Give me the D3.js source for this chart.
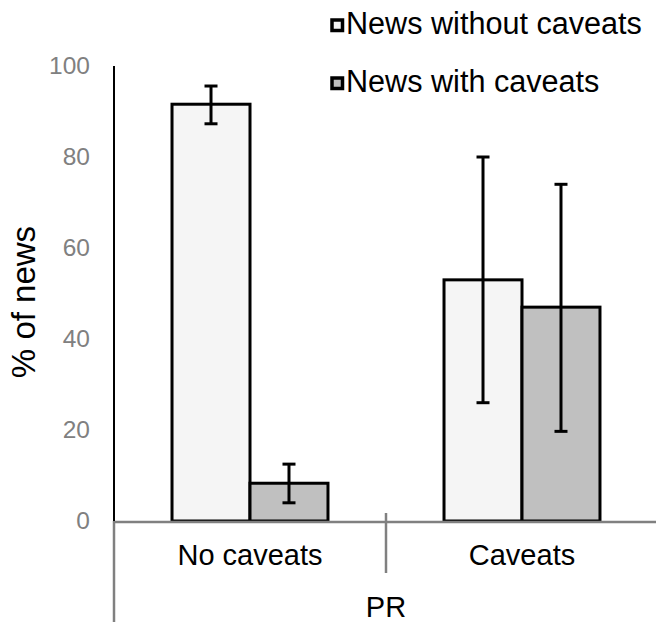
<!DOCTYPE html>
<html>
<head>
<meta charset="utf-8">
<script src="https://cdn.jsdelivr.net/npm/d3@7"></script>
<style>
  html, body { margin: 0; padding: 0; background: #fff; }
  svg { display: block; font-family: "Liberation Sans", Arial, sans-serif; }
</style>
</head>
<body>
<svg id="chart" width="656" height="622"></svg>
<script>
const categories = ["No caveats", "Caveats"];
const seriesNames = ["News without caveats", "News with caveats"];
const seriesColors = ["#f5f5f5", "#c0c0c0"];
const withoutCaveats = [91.6, 53.0];
const withCaveats = [8.3, 47.0];
const withoutCaveatsLow = [87.3, 26.0];
const withoutCaveatsHigh = [95.6, 80.0];
const withCaveatsLow = [4.0, 19.7];
const withCaveatsHigh = [12.5, 74.0];
const yTicks = [0, 20, 40, 60, 80, 100];
const groupLabel = "PR";
const yTitle = "% of news";

const svg = d3.select("#chart");

const x0 = d3.scaleBand().domain(categories).range([114, 658]).paddingInner(0).paddingOuter(0);
const x1 = d3.scaleBand().domain(seriesNames).range([0, x0.bandwidth()]).paddingInner(0).paddingOuter(0.744);
const y = d3.scaleLinear().domain([0, 100]).range([521, 66]);

const data = [];
categories.forEach((c, i) => {
  data.push({cat: c, s: seriesNames[0], v: withoutCaveats[i], lo: withoutCaveatsLow[i], hi: withoutCaveatsHigh[i], color: seriesColors[0]});
  data.push({cat: c, s: seriesNames[1], v: withCaveats[i], lo: withCaveatsLow[i], hi: withCaveatsHigh[i], color: seriesColors[1]});
});

// Bars
svg.append("g").selectAll("rect").data(data).join("rect")
  .attr("x", d => x0(d.cat) + x1(d.s))
  .attr("y", d => y(d.v))
  .attr("width", x1.bandwidth())
  .attr("height", d => y(0) - y(d.v))
  .attr("fill", d => d.color)
  .attr("stroke", "#000")
  .attr("stroke-width", 3);

// Baseline and category axis (gray)
svg.append("line").attr("x1", 114).attr("x2", 656).attr("y1", y(0) + 1).attr("y2", y(0) + 1)
  .attr("stroke", "#808080").attr("stroke-width", 2.5);
svg.append("line").attr("x1", 114).attr("x2", 114).attr("y1", y(0)).attr("y2", 622)
  .attr("stroke", "#808080").attr("stroke-width", 2.5);
svg.append("line").attr("x1", x0(categories[1])).attr("x2", x0(categories[1])).attr("y1", y(0) - 8).attr("y2", 573)
  .attr("stroke", "#808080").attr("stroke-width", 2.5);

// Y axis (black)
const yAxis = d3.axisLeft(y).tickValues(yTicks).tickSize(0).tickPadding(24);
const gy = svg.append("g").attr("transform", "translate(114,0)").call(yAxis);
gy.select(".domain").attr("stroke", "#000").attr("stroke-width", 2).attr("d", `M0,${y(100)}V${y(0)}`);
gy.selectAll("text").attr("fill", "#808080").attr("font-size", 24.5)
  .attr("font-family", '"Liberation Sans", Arial, sans-serif');

// Error bars
const eg = svg.append("g").attr("stroke", "#000").attr("stroke-width", 3);
data.forEach(d => {
  const cx = x0(d.cat) + x1(d.s) + x1.bandwidth() / 2;
  eg.append("line").attr("x1", cx).attr("x2", cx).attr("y1", y(d.hi)).attr("y2", y(d.lo));
  eg.append("line").attr("x1", cx - 6.5).attr("x2", cx + 6.5).attr("y1", y(d.hi)).attr("y2", y(d.hi));
  eg.append("line").attr("x1", cx - 6.5).attr("x2", cx + 6.5).attr("y1", y(d.lo)).attr("y2", y(d.lo));
});

// Category labels
svg.append("g").selectAll("text").data(categories).join("text")
  .attr("x", d => x0(d) + x0.bandwidth() / 2)
  .attr("y", 565)
  .attr("text-anchor", "middle")
  .attr("font-size", 29)
  .attr("fill", "#000")
  .text(d => d);

svg.append("text").attr("x", x0(categories[1])).attr("y", 617)
  .attr("text-anchor", "middle").attr("font-size", 29).attr("fill", "#000").text(groupLabel);

// Y title
svg.append("text").attr("transform", "translate(35,302) rotate(-90)")
  .attr("text-anchor", "middle").attr("font-size", 33).attr("fill", "#000").text(yTitle);

// Legend
const lg = svg.append("g");
seriesNames.forEach((s, i) => {
  const ly = 34 + i * 58;
  lg.append("rect").attr("x", 332).attr("y", ly - 14).attr("width", 10.5).attr("height", 10.5)
    .attr("fill", seriesColors[i]).attr("stroke", "#000").attr("stroke-width", 3.5);
  lg.append("text").attr("x", 346).attr("y", ly).attr("font-size", 30.6).attr("fill", "#000").text(s);
});
</script>
</body>
</html>
